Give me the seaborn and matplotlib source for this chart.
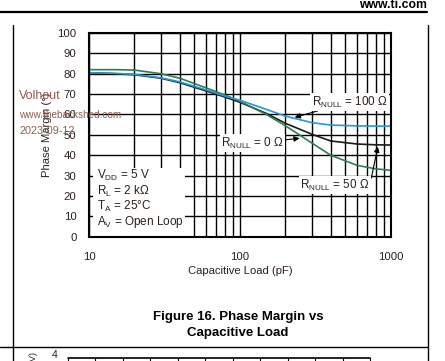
import numpy as np
import pandas as pd
import matplotlib
matplotlib.use("Agg")
import matplotlib.pyplot as plt
import seaborn as sns
from matplotlib.ticker import LogLocator, NullFormatter, FixedLocator
from matplotlib.patches import Rectangle
from matplotlib.lines import Line2D

# ---------------- data ----------------
cap_pf = [10, 15, 20, 30, 40, 60, 80, 100, 150, 200, 300, 400, 600, 800, 1000]
pm_rnull_0 = [80.5, 80.0, 79.5, 77.8, 75.6, 71.5, 68.5, 66.0, 60.5, 55.7, 50.3, 47.0, 45.5, 45.1, 45.0]
pm_rnull_50 = [82.0, 82.0, 81.8, 80.0, 77.8, 73.0, 69.5, 66.5, 60.0, 54.5, 46.0, 40.0, 35.0, 33.3, 32.6]
pm_rnull_100 = [80.5, 80.2, 79.7, 78.0, 76.0, 72.0, 69.0, 67.0, 62.5, 59.2, 56.0, 54.8, 54.4, 54.3, 54.3]
series_names = ["RNULL = 0", "RNULL = 50", "RNULL = 100"]
x_ticks = [10, 100, 1000]
x_tick_labels = ["10", "100", "1000"]
y_ticks = [0, 10, 20, 30, 40, 50, 60, 70, 80, 90, 100]

df = pd.DataFrame({
    "cap": cap_pf * 3,
    "pm": pm_rnull_0 + pm_rnull_50 + pm_rnull_100,
    "series": [series_names[0]] * len(cap_pf) + [series_names[1]] * len(cap_pf) + [series_names[2]] * len(cap_pf),
})

# ---------------- style ----------------
sns.set_style("white")
plt.rcParams["font.family"] = ["Liberation Sans", "DejaVu Sans"]
plt.rcParams["mathtext.default"] = "regular"
TXT = "#2b211c"

fig = plt.figure(figsize=(4.45, 3.61), dpi=100)
fig.patch.set_facecolor("white")
ax = fig.add_axes([0.2, 0.3443, 0.678, 0.5643])

palette = {series_names[0]: "#1a1a1a", series_names[1]: "#2e7d52", series_names[2]: "#1f9ad6"}
sns.lineplot(data=df, x="cap", y="pm", hue="series", palette=palette, ax=ax,
             legend=False, linewidth=1.2, zorder=5)

ax.set_xscale("log")
ax.set_xlim(10, 1000)
ax.set_ylim(0, 100)
ax.xaxis.set_major_locator(FixedLocator(x_ticks))
ax.set_xticklabels(x_tick_labels)
ax.xaxis.set_minor_locator(LogLocator(base=10, subs=np.arange(2, 10)))
ax.xaxis.set_minor_formatter(NullFormatter())
ax.set_yticks(y_ticks)
ax.grid(True, which="both", color="black", linewidth=1.0, zorder=1)
ax.set_axisbelow(True)
ax.tick_params(which="both", length=0, labelsize=8.2, colors=TXT)
ax.tick_params(axis="y", pad=9)
ax.tick_params(axis="x", pad=11)
for s in ax.spines.values():
    s.set_color("black")
    s.set_linewidth(1.5)
    s.set_zorder(6)

ax.set_xlabel("Capacitive Load (pF)", fontsize=8.1, color=TXT, labelpad=3)
ax.set_ylabel("Phase Margin (°)", fontsize=8.1, color=TXT, labelpad=4)

# condition box
ax.add_patch(Rectangle((10.6, 0.4), 43.2 - 10.6, 33.6 - 0.4, facecolor="white",
                       edgecolor="none", zorder=2))
cond = [r"V$_{DD}$ = 5 V", r"R$_{L}$ = 2 kΩ", r"T$_{A}$ = 25°C", r"A$_{V}$ = Open Loop"]
cond_y = [30.3, 22.1, 14.7, 7.3]
for t, yy in zip(cond, cond_y):
    ax.text(11.3, yy, t, fontsize=8.5, color=TXT, va="center", ha="left", zorder=7)

bb = dict(facecolor="white", edgecolor="none", pad=1.0)
ap = dict(arrowstyle="-|>", color="black", lw=0.8, mutation_scale=8, shrinkA=0, shrinkB=0)
ax.annotate(r"R$_{NULL}$ = 100 Ω", xy=(231, 58.6), xytext=(533, 66.1), fontsize=8.4,
            color=TXT, ha="center", va="center", bbox=bb, arrowprops=ap, zorder=7)
ax.annotate(r"R$_{NULL}$ = 0 Ω", xy=(249, 48.3), xytext=(121, 45.9), fontsize=8.4,
            color=TXT, ha="center", va="center", bbox=bb, arrowprops=ap, zorder=7)
ax.annotate("", xy=(822, 44.2), xytext=(743, 28.7), arrowprops=ap, zorder=7)
ax.text(425, 25.4, r"R$_{NULL}$ = 50 Ω", fontsize=8.4, color=TXT, ha="center",
        va="center", bbox=bb, zorder=7)

# ---------------- page decorations ----------------
W, H = 445.0, 361.0
def fx(p): return p / W
def fy(p): return 1 - p / H

fig.add_artist(Line2D([0, fx(427)], [fy(12), fy(12)], color="black", lw=1.6))
fig.text(fx(427), fy(7.5), "www.ti.com", fontsize=8.8, fontweight="bold",
         ha="right", va="baseline", color="black")
fig.add_artist(Line2D([fx(13.3), fx(13.3)], [fy(25), 0], color="black", lw=1.0))
fig.add_artist(Line2D([fx(427.5), fx(427.5)], [fy(25), 0], color="black", lw=1.0))
fig.add_artist(Line2D([0, fx(427.5)], [fy(346.5), fy(346.5)], color="black", lw=1.0))

fig.text(fx(238), fy(317), "Figure 16. Phase Margin vs", fontsize=9.5,
         fontweight="bold", ha="center", va="center", color="black")
fig.text(fx(238), fy(333), "Capacitive Load", fontsize=9.5,
         fontweight="bold", ha="center", va="center", color="black")

# next chart fragment at bottom
fig.add_artist(Line2D([fx(68), fx(370)], [fy(357.5), fy(357.5)], color="black", lw=1.2))
for px in np.linspace(68, 370, 12):
    fig.add_artist(Line2D([fx(px), fx(px)], [fy(357.5), 0], color="black", lw=0.8))
fig.text(fx(55), fy(355), "4", fontsize=7.5, ha="center", va="center", color=TXT)
fig.text(fx(33), fy(357), "(V)", fontsize=6.5, ha="center", va="center", color=TXT,
         rotation=90)

# watermark
WM = "#8e5e52"
fig.text(fx(19), fy(96), "Volhout", fontsize=9, color=WM, ha="left", va="center", zorder=10)
fig.text(fx(19), fy(115), "www.thebackshed.com", fontsize=7.2, color=WM, ha="left",
         va="center", zorder=10)
fig.text(fx(19), fy(131), "2023-09-12", fontsize=7.8, color=WM, ha="left", va="center",
         zorder=10)

fig.savefig("out.png", dpi=100, facecolor="white")
